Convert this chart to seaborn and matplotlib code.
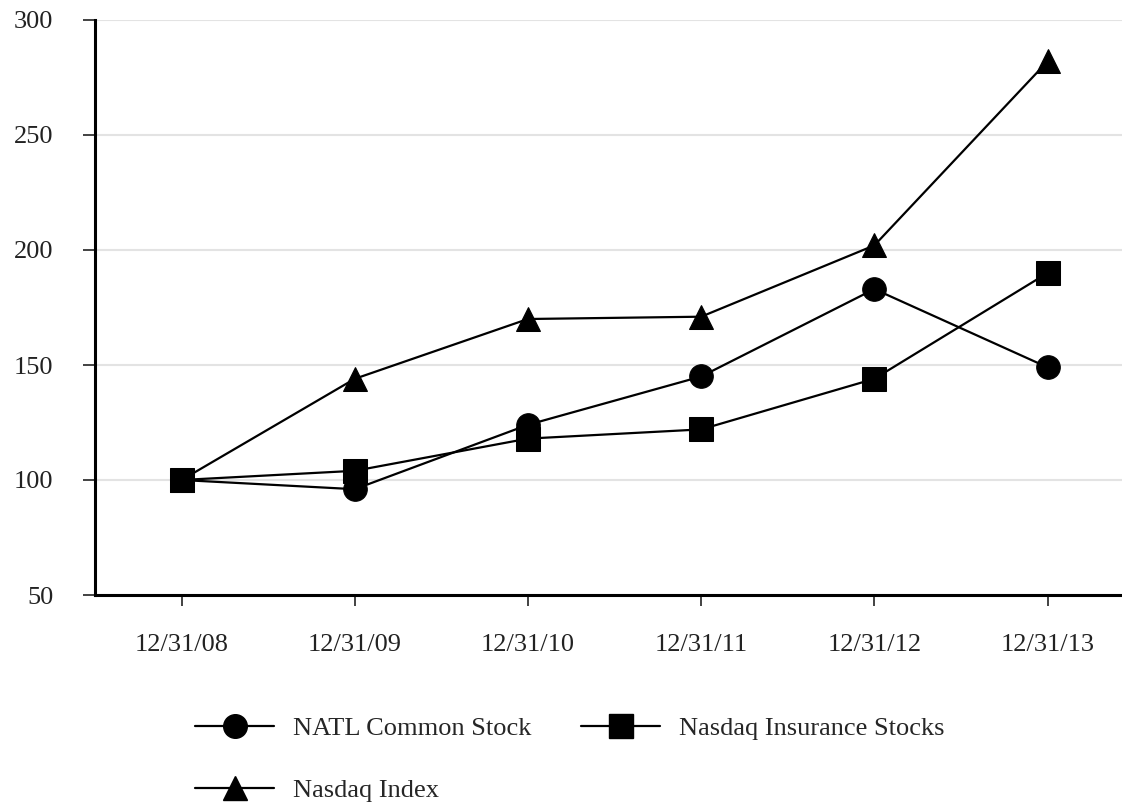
import pandas as pd
import seaborn as sns
from matplotlib import pyplot as plt

# Data
dates = ["12/31/08", "12/31/09", "12/31/10", "12/31/11", "12/31/12", "12/31/13"]
natl = [100, 96, 124, 145, 183, 149]
insurance = [100, 104, 118, 122, 144, 190]
nasdaq = [100, 144, 170, 171, 202, 282]

series = ["NATL Common Stock", "Nasdaq Insurance Stocks", "Nasdaq Index"]
markers = {"NATL Common Stock": "o", "Nasdaq Insurance Stocks": "s", "Nasdaq Index": "^"}


def build_df():
    rows = []
    for name, vals in zip(series, [natl, insurance, nasdaq]):
        for i, (d, v) in enumerate(zip(dates, vals)):
            rows.append((i, d, name, v))
    return pd.DataFrame(rows, columns=["Pos", "Date", "Series", "Value"])


def plot(df):
    sns.set_style("white")
    plt.rcParams["font.family"] = ["Liberation Serif", "DejaVu Serif"]

    fig = plt.figure(figsize=(11.22, 8.05), dpi=100)
    ax = fig.add_axes([95 / 1122, 1 - 595 / 805, 1 - 95 / 1122, (595 - 20) / 805])

    sns.lineplot(data=df, x="Pos", y="Value", hue="Series", style="Series",
                 palette=["black"] * 3, markers=markers, dashes=False,
                 markersize=17, linewidth=1.6, markeredgecolor="black",
                 hue_order=series, style_order=series, ax=ax, legend=False)

    ax.set_xlim(-0.5, 5.43)
    ax.set_ylim(50, 300)
    ax.set_xticks(range(len(dates)))
    ax.set_xticklabels(dates)
    ax.set_yticks(range(50, 301, 50))
    ax.set_xlabel("")
    ax.set_ylabel("")
    ax.tick_params(axis="both", labelsize=19, colors="#222222", width=1.2,
                   direction="out", bottom=True, left=True)
    ax.tick_params(axis="x", pad=20, length=8)
    ax.tick_params(axis="y", pad=21, length=9)
    ax.grid(axis="y", color="#e3e3e3", linewidth=1.5)
    ax.set_axisbelow(True)
    for side in ["top", "right"]:
        ax.spines[side].set_visible(False)
    for side in ["left", "bottom"]:
        ax.spines[side].set_color("black")
        ax.spines[side].set_linewidth(2.2)

    # legend fills column-wise, so order gives NATL, Insurance on the first row
    order = ["NATL Common Stock", "Nasdaq Index", "Nasdaq Insurance Stocks"]
    handles = [plt.Line2D([], [], color="black", linewidth=1.6, marker=markers[s],
                          markersize=17) for s in order]
    fig.legend(handles, order, loc="upper left", bbox_to_anchor=(195 / 1122, 1 - 717 / 805),
               ncol=2, frameon=False, fontsize=19, handlelength=3.0, handletextpad=0.7,
               columnspacing=1.9, labelspacing=1.45, borderpad=0, borderaxespad=0)

    fig.savefig("out.png", dpi=100)


if __name__ == "__main__":
    plot(build_df())
